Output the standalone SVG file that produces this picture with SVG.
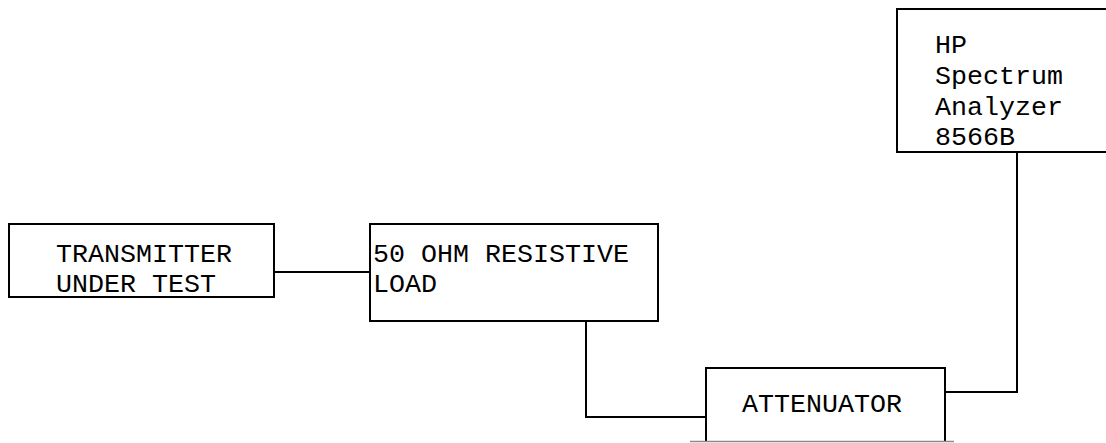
<svg xmlns="http://www.w3.org/2000/svg" width="1106" height="443" viewBox="0 0 1106 443">
<style>
.box{fill:#fff;stroke:#000;stroke-width:2}
.wire{fill:none;stroke:#000;stroke-width:2}
text{font-family:"Liberation Mono","Courier New",monospace;font-size:26.67px;fill:#000}
</style>
<rect width="1106" height="443" fill="#fff"/>
<g id="connectors">
<path class="wire" d="M274,272H370"/>
<path class="wire" d="M586,321V417H706"/>
<path class="wire" d="M945,392H1017V152"/>
</g>
<g id="transmitter">
<rect class="box" x="9" y="224" width="265" height="73"/>
<text x="56" y="262">TRANSMITTER</text>
<text x="56" y="292">UNDER TEST</text>
</g>
<g id="load">
<rect class="box" x="370" y="224" width="288" height="97"/>
<text x="373" y="262">50 OHM RESISTIVE</text>
<text x="373" y="292">LOAD</text>
</g>
<g id="attenuator">
<path class="box" d="M706,441V368H945V441"/>
<line x1="690" y1="441.5" x2="954" y2="441.5" stroke="#8a8a8a" stroke-width="1.5"/>
<text x="742" y="412">ATTENUATOR</text>
</g>
<g id="analyzer">
<rect class="box" x="897" y="9" width="215" height="143"/>
<text x="935" y="53">HP</text>
<text x="935" y="84">Spectrum</text>
<text x="935" y="115">Analyzer</text>
<text x="935" y="145">8566B</text>
</g>
</svg>
